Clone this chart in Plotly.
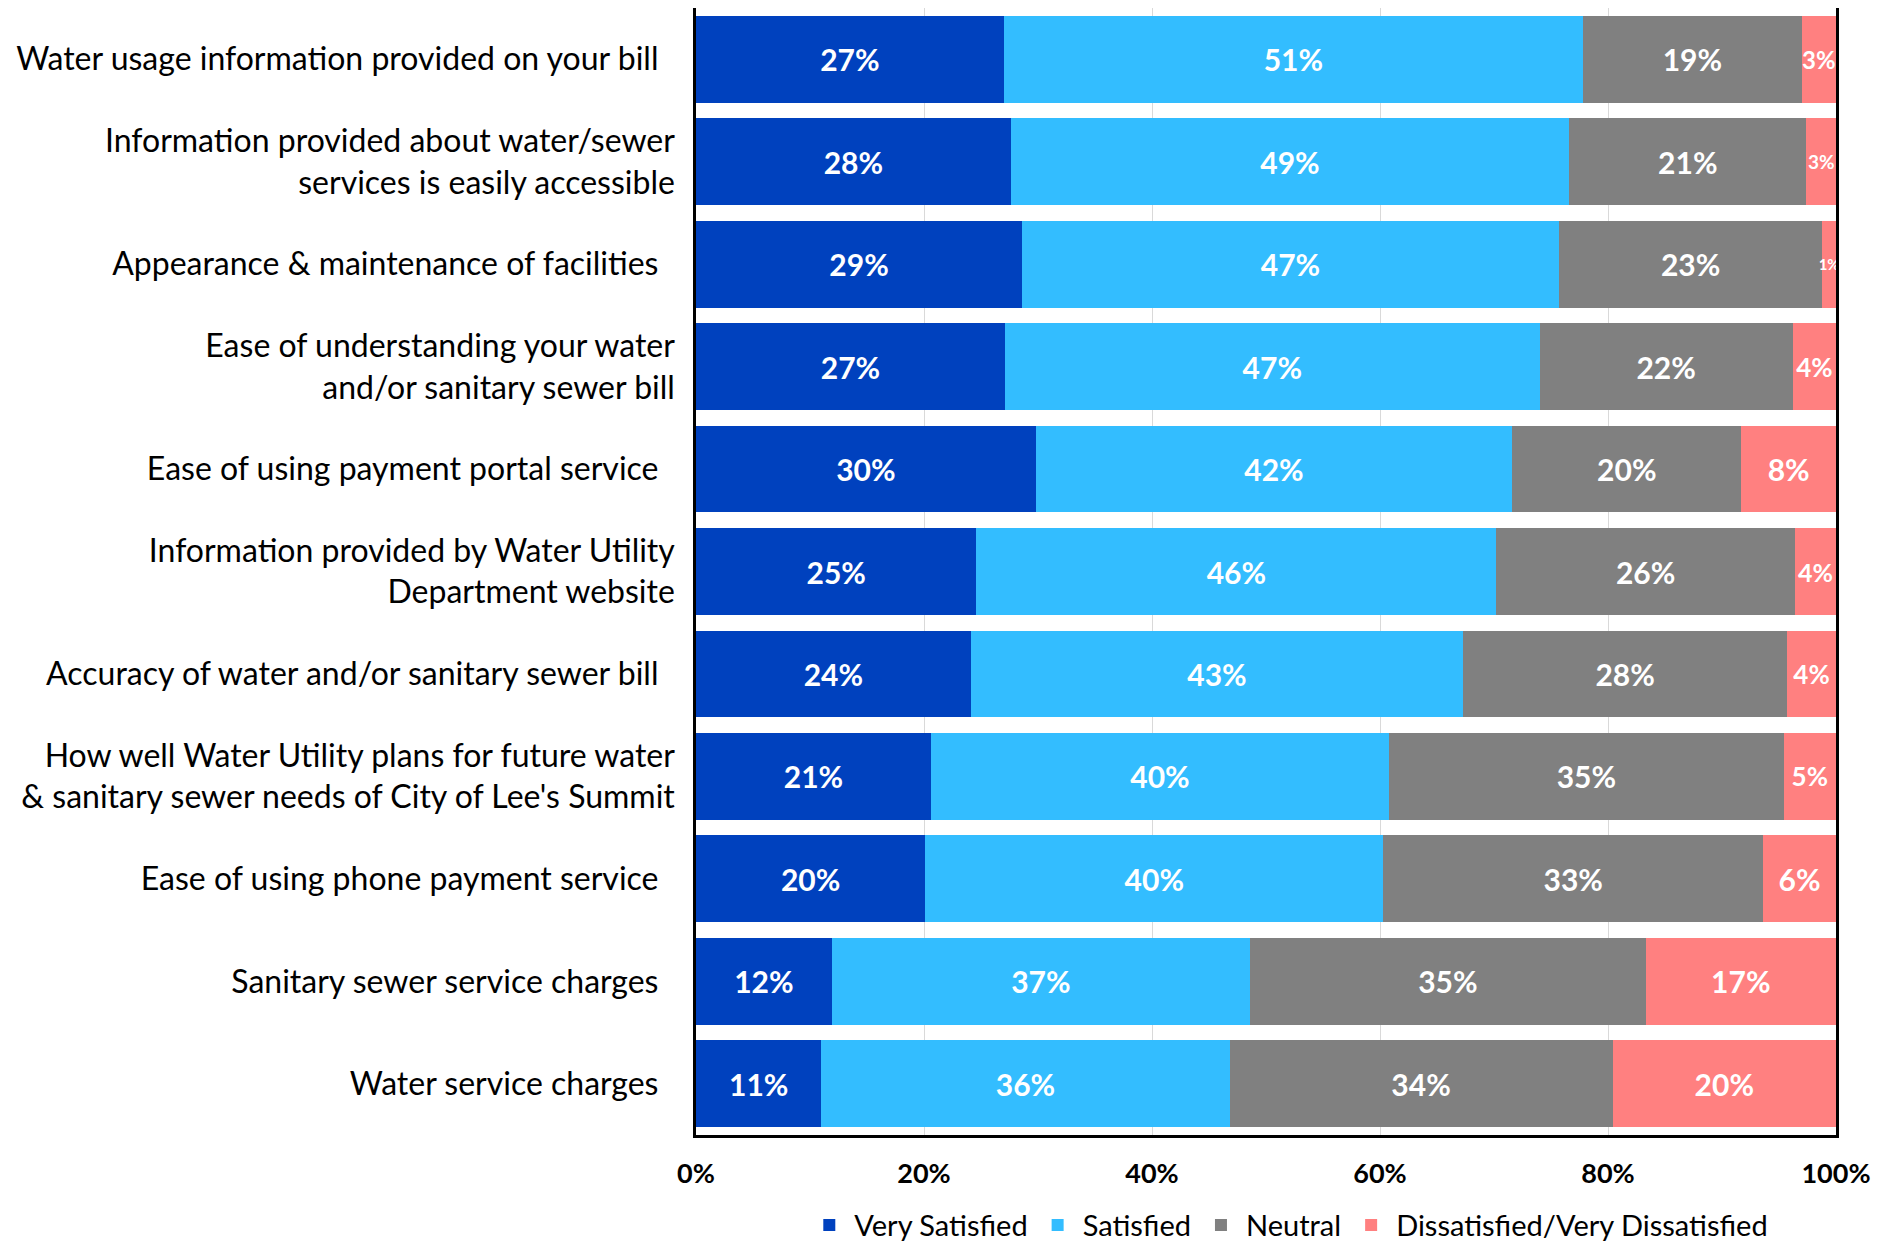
import plotly.graph_objects as go

categories = [
    "Water usage information provided on your bill",
    "Information provided about water/sewer<br>services is easily accessible",
    "Appearance & maintenance of facilities",
    "Ease of understanding your water<br>and/or sanitary sewer bill",
    "Ease of using payment portal service",
    "Information provided by Water Utility<br>Department website",
    "Accuracy of water and/or sanitary sewer bill",
    "How well Water Utility plans for future water<br>& sanitary sewer needs of City of Lee's Summit",
    "Ease of using phone payment service",
    "Sanitary sewer service charges",
    "Water service charges",
]
very_satisfied = [27.0, 27.6, 28.6, 27.1, 29.8, 24.6, 24.1, 20.6, 20.1, 11.9, 11.0]
satisfied = [50.8, 49.0, 47.1, 46.9, 41.8, 45.6, 43.2, 40.2, 40.2, 36.7, 35.8]
neutral = [19.2, 20.8, 23.1, 22.2, 20.1, 26.2, 28.4, 34.6, 33.3, 34.7, 33.6]
dissatisfied = [3.0, 2.6, 1.2, 3.8, 8.3, 3.6, 4.3, 4.6, 6.4, 16.7, 19.6]

series_names = ["Very Satisfied", "Satisfied", "Neutral", "Dissatisfied/Very Dissatisfied"]
series_values = [very_satisfied, satisfied, neutral, dissatisfied]
series_colors = ["#0041BE", "#33BDFF", "#808080", "#FF8080"]

x_tick_values = [0, 20, 40, 60, 80, 100]
x_tick_labels = ["0%", "20%", "40%", "60%", "80%", "100%"]

FONT = "Lato"
LABEL_SIZE = 30
# label font sizes used for the narrow "Dissatisfied" segments (styling only)
dissat_label_sizes = [24, 19, 15, 26, 30, 25, 26, 26, 30, 30, 30]

fig = go.Figure()
for name, vals, col in zip(series_names, series_values, series_colors):
    is_dissat = name.startswith("Dissatisfied")
    fig.add_trace(go.Bar(
        y=categories,
        x=vals,
        name=name,
        orientation="h",
        marker=dict(color=col, line=dict(width=0)),
        texttemplate="%{x:.0f}%",
        textposition="inside",
        insidetextanchor="middle",
        textangle=0,
        constraintext="none" if is_dissat else "both",
        textfont=dict(family=FONT,
                      size=dissat_label_sizes if is_dissat else LABEL_SIZE,
                      color="white", weight="bold"),
    ))

tick_text = [c if "<br>" in c else c + "\u00a0\u00a0" for c in categories]

fig.update_layout(
    width=1886,
    height=1235,
    barmode="stack",
    bargap=0.152,
    plot_bgcolor="white",
    paper_bgcolor="white",
    margin=dict(l=688, r=58, t=0, b=108, autoexpand=False),
    font=dict(family=FONT, color="black"),
    legend=dict(
        orientation="h",
        x=0.52,
        xanchor="center",
        y=-0.080,
        yanchor="middle",
        itemwidth=40,
        font=dict(family=FONT, size=29, color="black"),
        traceorder="normal",
    ),
    xaxis=dict(
        range=[0, 100],
        tickvals=x_tick_values,
        ticktext=x_tick_labels,
        tickfont=dict(family=FONT, size=27, color="black", weight="bold"),
        showgrid=True,
        gridcolor="#d9d9d9",
        gridwidth=1,
        zeroline=False,
        showline=True,
        mirror=True,
        linecolor="black",
        linewidth=2.5,
        ticks="",
        ticklabelstandoff=13,
    ),
    yaxis=dict(
        type="category",
        tickvals=categories,
        ticktext=tick_text,
        autorange="reversed",
        tickfont=dict(family=FONT, size=32, color="black"),
        showline=True,
        mirror=True,
        linecolor="black",
        linewidth=2.5,
        ticks="",
        ticklabelstandoff=12,
        showgrid=False,
    ),
)

fig.write_html("out.html")
